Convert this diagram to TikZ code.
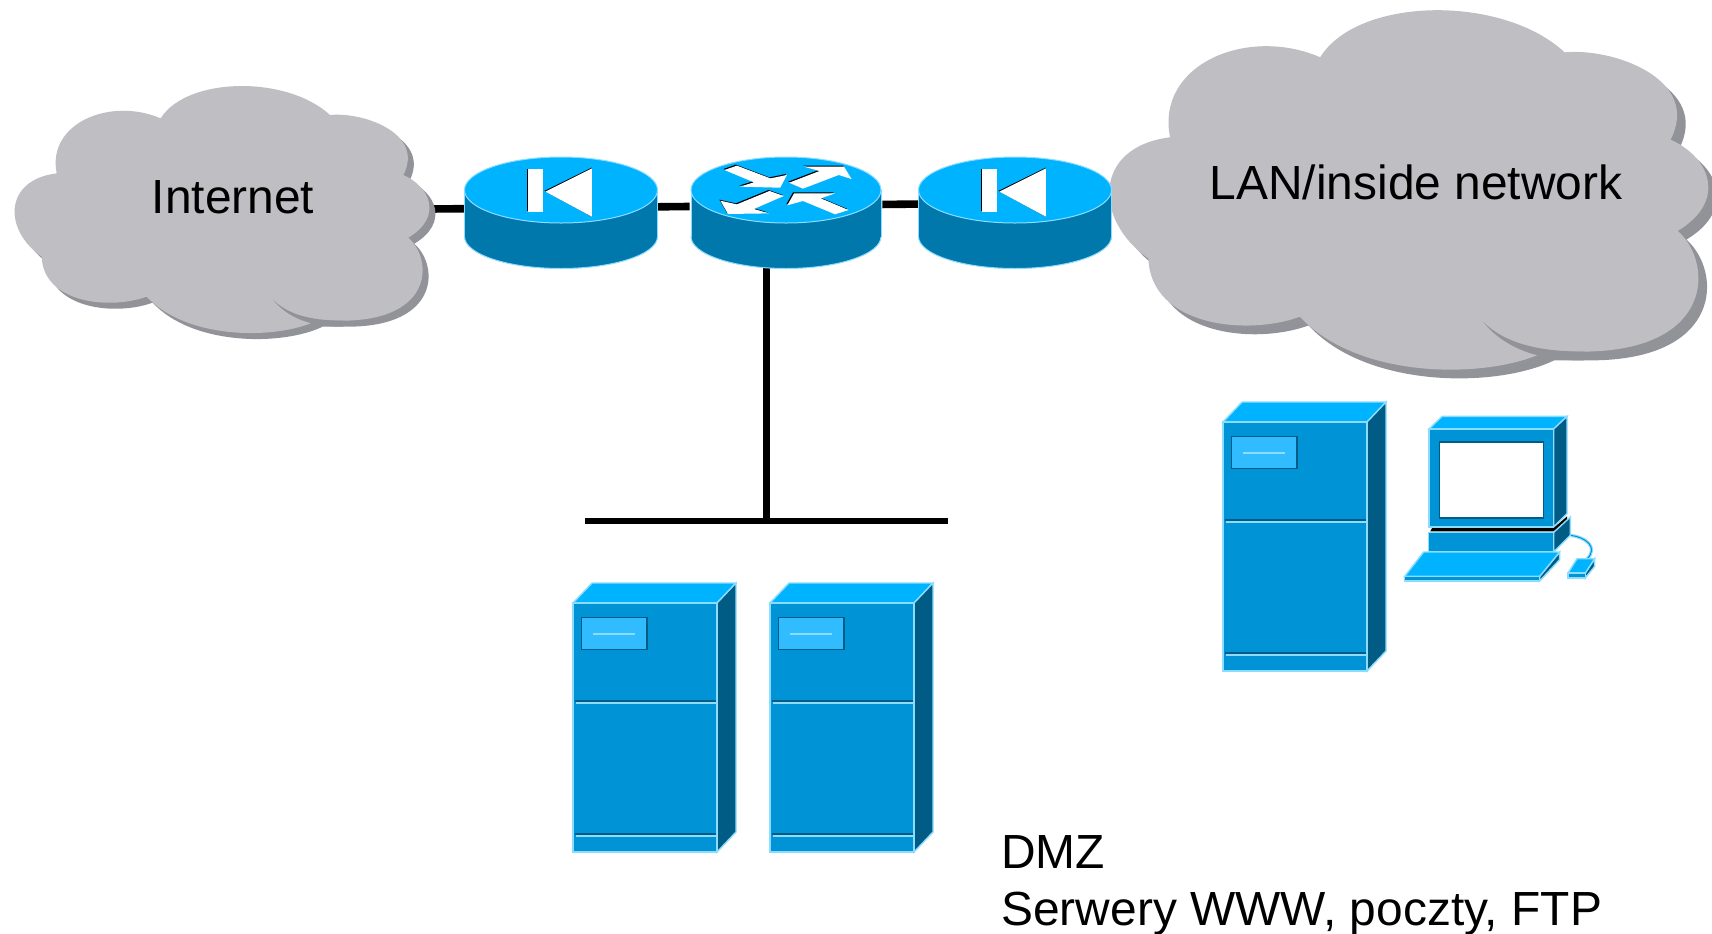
\documentclass[tikz,border=0pt]{standalone}
\usepackage{fontspec}
\setmainfont{Liberation Sans}
\usetikzlibrary{shapes,arrows}
\definecolor{topblue}{RGB}{0,179,255}
\definecolor{frontblue}{RGB}{0,148,214}
\definecolor{sideblue}{RGB}{0,92,133}
\definecolor{discblue}{RGB}{0,120,171}
\definecolor{edgeblue}{RGB}{140,220,255}
\definecolor{panelblue}{RGB}{48,188,255}
\definecolor{cloudgrey}{RGB}{191,190,195}
\definecolor{cloudshade}{RGB}{146,147,153}
\newcommand{\cloudoutline}{(170,310) .. controls (140,160) and (330,80) .. (482,145)
    .. controls (560,20) and (860,15) .. (990,135)
    .. controls (1090,125) and (1275,190) .. (1210,315)
    .. controls (1290,350) and (1330,440) .. (1225,503)
    .. controls (1300,570) and (1300,750) .. (1030,752)
    -- (950,752) .. controls (830,810) and (560,810) .. (440,680)
    .. controls (330,720) and (130,700) .. (125,560)
    .. controls (10,480) and (10,330) .. (170,310) -- cycle}
\newcommand{\discbody}[1]{
    \filldraw[discblue,draw=edgeblue,line width=.5pt] (0,46.5) ellipse [x radius=#1,y radius=32];
    \fill[discblue] (-#1,0) rectangle (#1,46.5);
    \draw[edgeblue,line width=.5pt] (-#1,0) -- (-#1,46.5) (#1,0) -- (#1,46.5);
    \filldraw[topblue,draw=edgeblue,line width=.5pt] (0,0) ellipse [x radius=#1,y radius=33];
}
\tikzset{
    x=.5pt,y=-.5pt,
    wire/.style={line width=3.8pt},
    tag/.style={font=\fontsize{23.95}{28.5}\selectfont,inner sep=0pt},
    hub/.style={minimum width=96pt,minimum height=61pt,inner sep=0pt},
    front/.style={fill=frontblue,draw=edgeblue,line width=.7pt},
    lid/.style={fill=topblue,draw=edgeblue,line width=.7pt},
    flank/.style={fill=sideblue,draw=edgeblue,line width=.7pt},
    glyph/.style={fill=white},
    cloud/.pic={
        \fill[cloudshade,shift={(18,18)}] \cloudoutline;
        \fill[cloudgrey] \cloudoutline;
        \fill[cloudshade] (820,690) .. controls (870,740) and (950,752) .. (1030,752)
            -- (1030,770) .. controls (930,772) and (860,740) .. (820,690) -- cycle;
    },
    firewall/.pic={
        \discbody{96.5}
        \begin{scope}[yscale=.7467]
        \fill[black] (-33.6,-28.7) rectangle (-19.3,28);
        \fill[black] (-16.6,1.2) -- (30.8,-30) -- (30.8,35.7) -- cycle;
        \fill[glyph] (-32.6,-27.7) rectangle (-18.3,29);
        \fill[glyph] (-15.6,2.2) -- (30.8,-29) -- (30.8,35.7) -- cycle;
        \end{scope}
    },
    router/.pic={
        \discbody{95}
        \foreach \dx/\dy/\tint in {-1/-1/black,0/0/white} {
            \begin{scope}[shift={(\dx,\dy)},yscale=.7467]
            \fill[\tint] (-61.6,-26.8) -- (-49.1,-32.6) -- (-15.6,-15.6) -- (.9,-20.1) -- (-5.8,-3.1) -- (-46,-4.5) -- (-32.1,-10.3) -- cycle;
            \fill[\tint] (3.1,-9.8) -- (33.5,-25.4) -- (17.9,-31.3) -- (58,-31.3) -- (65.6,-14.7) -- (52.7,-20.1) -- (17,-1.8) -- cycle;
            \fill[\tint] (-2.2,8) -- (-16.5,1.3) -- (-49.1,19.2) -- (-65.6,14.3) -- (-58,32.1) -- (-17,31.3) -- (-32.1,25.4) -- cycle;
            \fill[\tint] (62.5,26.8) -- (49.1,32.6) -- (17,14.7) -- (1.3,20.5) -- (8,4.5) -- (49.1,4.5) -- (34.8,11.2) -- cycle;
            \end{scope}
        }
    },
    tower/.pic={
        \path[lid] (0,0) -- (19,-20) -- (163,-20) -- (144,0) -- cycle;
        \path[flank] (144,0) -- (163,-20) -- (163,229) -- (144,249) -- cycle;
        \path[front] (0,0) rectangle (144,249);
        \filldraw[panelblue,draw=sideblue,line width=.6pt] (8.5,14.5) rectangle (74,46.5);
        \draw[edgeblue,line width=1pt] (19.5,30.5) -- (62,30.5);
        \foreach \rowy in {98,231} {
            \draw[sideblue,line width=1.1pt] (1.5,\rowy) -- (142.5,\rowy);
            \draw[edgeblue,line width=.8pt] (3,\rowy+2.2) -- (142.5,\rowy+2.2);
        }
    },
    workstation/.pic={
        % monitor
        \path[lid] (0,0) -- (13,-12.6) -- (138,-12.6) -- (124.6,0) -- cycle;
        \path[flank] (124.6,0) -- (138,-12.6) -- (138,84.7) -- (124.6,98) -- cycle;
        \fill[black] (3,99) -- (124.6,99) -- (138,87.4) -- (138,91.3) -- (124.6,102.3) -- (1.3,102.3) -- cycle;
        \path[front] (0,0) rectangle (124.6,98);
        \filldraw[glyph,draw=sideblue,line width=.7pt] (10.6,13) rectangle (114.6,89);
        % base
        \path[flank] (124.6,103.4) -- (141.3,88) -- (141.3,106.4) -- (124.6,123) -- cycle;
        \path[front] (-.4,103.4) rectangle (124.6,123);
        % cable and mouse
        \draw[edgeblue,line width=1.6pt] (142,106.4) .. controls (156,108) and (170,118) .. (158,130);
        \draw[frontblue,line width=.5pt] (142,106.4) .. controls (156,108) and (170,118) .. (158,130);
        \path[flank] (156.3,144) -- (165.6,129.7) -- (165.6,137.4) -- (156.3,149) -- cycle;
        \path[lid] (148,129.7) -- (165.6,129.7) -- (156.3,144) -- (139,144) -- cycle;
        \path[front] (139,144) rectangle (156.3,149);
        % keyboard
        \path[flank] (110.6,147.4) -- (130.6,123) -- (130.6,130.7) -- (110.6,152) -- cycle;
        \path[lid] (-5.4,123) -- (130.6,123) -- (110.6,147.4) -- (-24.4,147.4) -- cycle;
        \path[front] (-24.4,147.4) rectangle (110.6,152);
    }
}

\begin{document}
\begin{tikzpicture}
    \useasboundingbox (0,0) rectangle (1712,933);
    \coordinate (disctop) at (0,190);
    \coordinate (internetport) at (430,209);
    \node[hub] (fwleft) at (561,207.8) {};
    \node[hub] (core) at (786,205.5) {};
    \node[hub] (fwright) at (1015,203) {};
    \node[fill=black,minimum width=181.5pt,minimum height=3pt,inner sep=0pt] (dmzbus) at (766.5,521) {};
    \path[wire]
    (internetport) edge (fwleft)
    (fwleft) edge (core)
    (core) edge (fwright)
    ;
    \draw[line width=3.4pt] (dmzbus) -- (dmzbus |- core.south);
    \pic at (0,70) [xscale=1/3,yscale=1/3] {cloud};
    \pic at (1088.2,-13.1) [xscale=.4813,yscale=.485] {cloud};
    \node[tag] (internet) at (233,197) {Internet};
    \node[tag] (lan) at (1416,182) {LAN/inside network};
    \pic at (fwleft |- disctop) {firewall};
    \pic at (core |- disctop) {router};
    \pic at (fwright |- disctop) {firewall};
    \pic at (573,603) {tower};
    \pic at (770,603) {tower};
    \pic at (1223,422) {tower};
    \pic at (1429,429) {workstation};
    \node[tag,anchor=north west,align=left] (dmz) at (1001,835) {DMZ\\Serwery WWW, poczty, FTP};
\end{tikzpicture}
\end{document}
